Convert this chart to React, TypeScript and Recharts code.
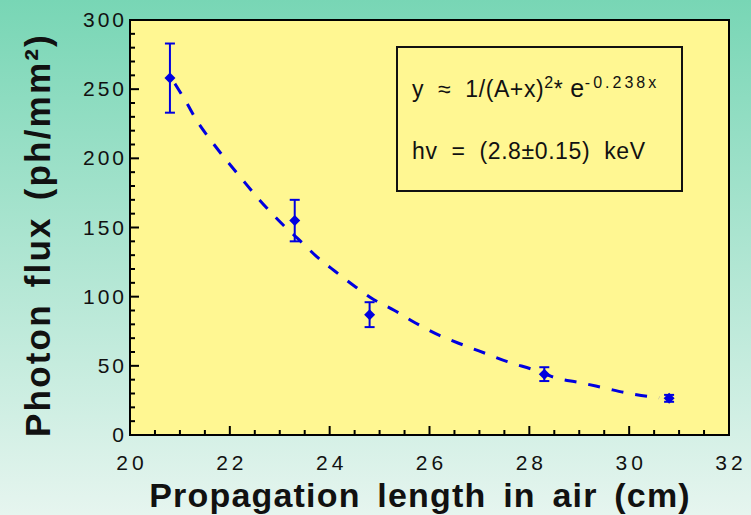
import {
  CartesianGrid,
  ComposedChart,
  ErrorBar,
  Line,
  ReferenceArea,
  Scatter,
  XAxis,
  YAxis,
} from "recharts";

// measured points
const distances = [20.8, 23.3, 24.8, 28.3, 30.8];
const flux = [258, 155, 87, 44, 26.5];
const fluxErr = [25, 15, 9, 5, 2.5];

// fitted absorption curve
const fitX = [
  20.9, 21.12, 21.36, 21.62, 21.9, 22.22, 22.52, 22.82, 23.12, 23.42, 23.74, 24.12, 24.52,
  24.88, 25.3, 25.72, 26.2, 26.68, 27.12, 27.56, 28.1, 28.56, 29.0, 29.5, 30.0, 30.46, 30.6,
];
const fitY = [
  254, 241, 226, 213, 200, 186, 173, 161, 150, 140, 129, 118, 107, 98, 90, 81, 72, 65, 59,
  53, 47, 41, 38, 34, 30, 27.5, 27,
];

const xTicks = [
  20, 20.5, 21, 21.5, 22, 22.5, 23, 23.5, 24, 24.5, 25, 25.5, 26, 26.5, 27, 27.5, 28, 28.5,
  29, 29.5, 30, 30.5, 31, 31.5, 32,
];
const xLabels = [20, 22, 24, 26, 28, 30, 32];
const yTicks = [
  0, 10, 20, 30, 40, 50, 60, 70, 80, 90, 100, 110, 120, 130, 140, 150, 160, 170, 180, 190,
  200, 210, 220, 230, 240, 250, 260, 270, 280, 290, 300,
];
const yLabels = [0, 50, 100, 150, 200, 250, 300];

const points = distances.map((x, i) => ({ x, y: flux[i], err: fluxErr[i] }));
const fit = fitX.map((x, i) => ({ x, y: fitY[i] }));

const BLUE = "#0000e0";
const FONT = "'Liberation Sans', Arial, sans-serif";

function XTick({ x, y, payload }: any) {
  const major = xLabels.includes(payload.value);
  return (
    <g>
      <line x1={x} x2={x} y1={y} y2={y - (major ? 9 : 5)} stroke="#000" strokeWidth={2} />
      {major && (
        <text x={x + 2} y={y + 35} textAnchor="middle" fontSize={21} letterSpacing={4} fill="#111" fontFamily={FONT}>
          {payload.value}
        </text>
      )}
    </g>
  );
}

function YTick({ x, y, payload }: any) {
  const major = yLabels.includes(payload.value);
  return (
    <g>
      <line x1={x} x2={x + (major ? 9 : 5)} y1={y} y2={y} stroke="#000" strokeWidth={2} />
      {major && (
        <text x={x - 3} y={y + 7} textAnchor="end" fontSize={21} letterSpacing={3} fill="#111" fontFamily={FONT}>
          {payload.value}
        </text>
      )}
    </g>
  );
}

function Diamond({ cx, cy }: any) {
  const r = 5.5;
  return <polygon points={`${cx},${cy - r} ${cx + r},${cy} ${cx},${cy + r} ${cx - r},${cy}`} fill={BLUE} />;
}

export default function App() {
  return (
    <div
      style={{
        position: "fixed",
        left: 0,
        top: 0,
        width: 751,
        height: 515,
        background: "linear-gradient(to bottom, #78d6b5, #e6f5ef)",
        fontFamily: FONT,
      }}
    >
      <ComposedChart width={751} height={515} margin={{ top: 20, right: 22, bottom: 0, left: 0 }}>
        <CartesianGrid fill="#fff792" horizontal={false} vertical={false} />
        <XAxis
          dataKey="x"
          type="number"
          domain={[20, 32]}
          ticks={xTicks}
          interval={0}
          height={80}
          tickSize={0}
          tickMargin={0}
          axisLine={false}
          tick={<XTick />}
          label={{
            content: () => (
              <text
                x={420}
                y={507}
                textAnchor="middle"
                fontSize={34}
                fontWeight="bold"
                letterSpacing={1.2}
                wordSpacing={6}
                fill="#111"
                fontFamily={FONT}
              >
                Propagation length in air (cm)
              </text>
            ),
          }}
        />
        <YAxis
          type="number"
          domain={[0, 300]}
          ticks={yTicks}
          interval={0}
          width={130}
          tickSize={0}
          tickMargin={0}
          axisLine={false}
          tick={<YTick />}
          label={{
            content: () => (
              <text
                x={50}
                y={235}
                transform="rotate(-90 50 235)"
                textAnchor="middle"
                fontSize={35}
                fontWeight="bold"
                letterSpacing={2.2}
                wordSpacing={4}
                fill="#111"
                fontFamily={FONT}
              >
                {"Photon flux (ph/mm\u00b2)"}
              </text>
            ),
          }}
        />
        <ReferenceArea x1={20} x2={32} y1={0} y2={300} fill="none" stroke="#000" strokeWidth={2} />
        <Line
          data={fit}
          dataKey="y"
          type="monotone"
          stroke={BLUE}
          strokeWidth={3}
          strokeDasharray="12 12"
          dot={false}
          activeDot={false}
          isAnimationActive={false}
        />
        <Scatter data={points} dataKey="y" fill={BLUE} shape={<Diamond />} isAnimationActive={false}>
          <ErrorBar dataKey="err" direction="y" width={5} stroke={BLUE} strokeWidth={2} isAnimationActive={false} />
        </Scatter>
      </ComposedChart>
      <div
        style={{
          position: "absolute",
          left: 396,
          top: 46,
          width: 287,
          height: 146,
          boxSizing: "border-box",
          border: "2px solid #111",
          color: "#111",
          fontSize: 23,
          whiteSpace: "pre",
        }}
      >
        <div style={{ position: "absolute", left: 14, top: 26, letterSpacing: 0.6 }}>
          {"y  \u2248  1/(A+x)"}
          <sup style={{ fontSize: 16 }}>2</sup>
          {"* "}
          <span style={{ fontSize: 25 }}>e</span>
          <sup style={{ fontSize: 16, letterSpacing: 3 }}>-0.238x</sup>
        </div>
        <div style={{ position: "absolute", left: 14, top: 90, letterSpacing: 0.6 }}>
          {"hv  =  (2.8\u00b10.15)  keV"}
        </div>
      </div>
    </div>
  );
}
